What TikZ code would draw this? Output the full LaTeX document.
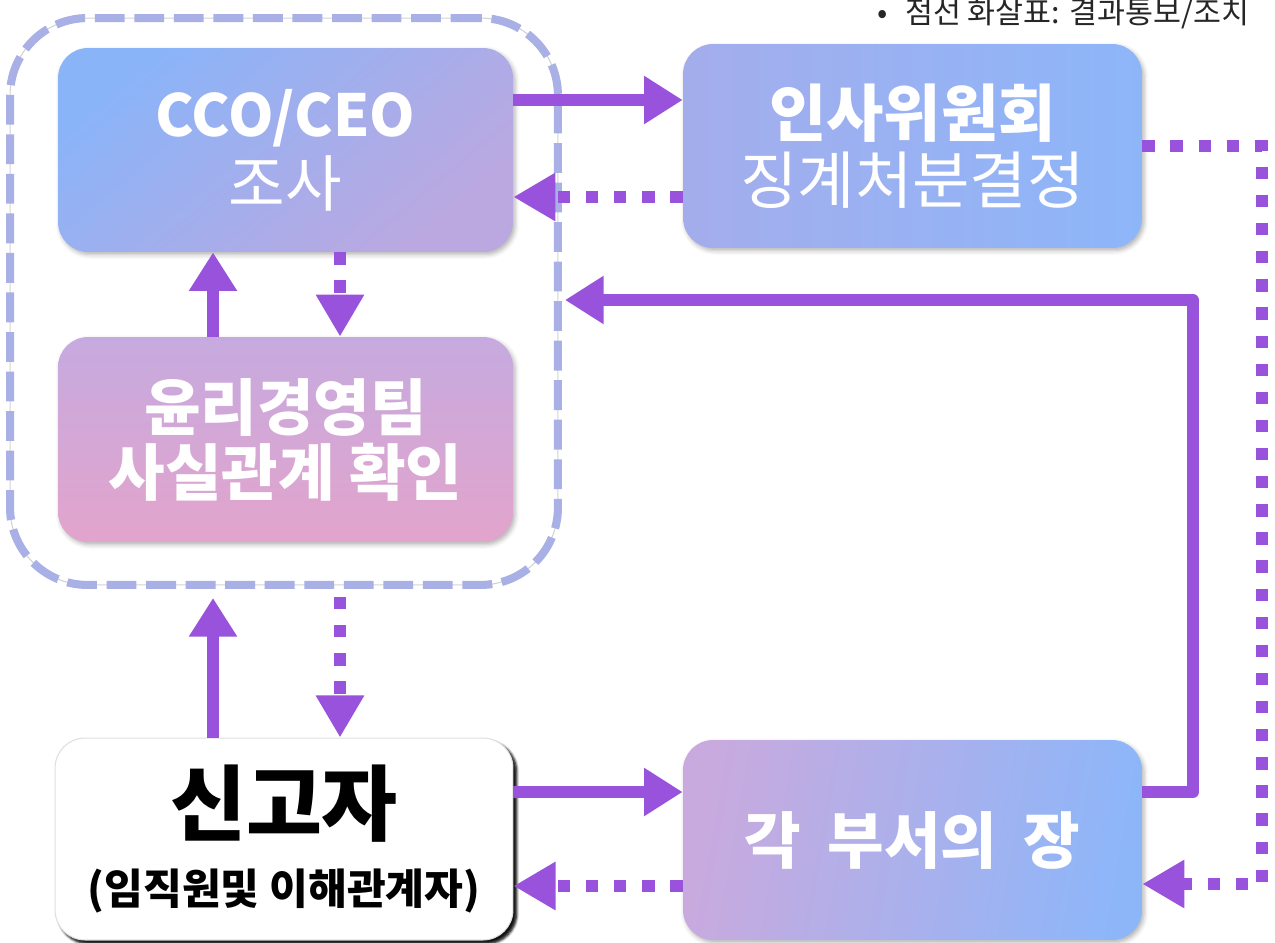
\documentclass[tikz,border=0pt]{standalone}
\usepackage{fontspec}
\setmainfont{Noto Sans CJK KR}
\usetikzlibrary{arrows.meta,shadows.blur,calc}
\definecolor{arr}{HTML}{9852DC}
\definecolor{grpc}{HTML}{A8B0E6}
\definecolor{ccoA}{HTML}{8AB4F8}
\definecolor{ccoB}{HTML}{BCA8E0}
\definecolor{ethA}{HTML}{C6AADF}
\definecolor{ethB}{HTML}{E2A4CC}
\definecolor{hrA}{HTML}{A4ADEC}
\definecolor{hrB}{HTML}{8DB6F9}
\definecolor{dpA}{HTML}{C8AADE}
\definecolor{dpB}{HTML}{8DB6F9}
\begin{document}
\begin{tikzpicture}[x=0.02cm,y=-0.02cm,
 box/.style={rounded corners=0.6cm, minimum width=9.1cm, minimum height=4.08cm, align=center, text=white, inner sep=0pt,
   blur shadow={shadow xshift=1.2pt, shadow yshift=-1.5pt, shadow opacity=30, shadow blur radius=2.5pt}},
 sol/.style={draw=arr, line width=6.8pt, line join=round, -{Triangle[length=22pt,width=26pt]}},
 dotarr/.style={draw=arr, line width=6.8pt, dash pattern=on 7pt off 9pt, -{Triangle[length=24pt,width=26pt]}},
]
\useasboundingbox (0,0) rectangle (1275,943);

% container
\node[draw=gray!35, line width=0.6pt, rounded corners=1.55cm, minimum width=10.96cm, minimum height=11.34cm] (grpline) at (284,301.5) {};
\node[draw=grpc, line width=4.6pt, dash pattern=on 17pt off 5.5pt, rounded corners=1.55cm, minimum width=10.96cm, minimum height=11.34cm] (grp) at (284,301.5) {};

% boxes
\node[box, left color=ccoA, right color=ccoB, shading angle=40, font=\fontsize{35}{40}\selectfont] (cco) at (285.5,150)
  {{\fontsize{33}{40}\selectfont\bfseries CCO/CEO}\\ 조사};
\node[box, top color=ethA, bottom color=ethB, minimum height=4.1cm, font=\fontsize{35}{37}\selectfont\bfseries] (eth) at (285.5,439.5)
  {윤리경영팀\\ 사실관계 확인};
\node[box, left color=hrA, right color=hrB, minimum width=9.18cm, font=\fontsize{35.5}{38}\selectfont] (hr) at (912.5,146)
  {{\bfseries 인사위원회}\\ 징계처분결정};
\node[box, left color=dpA, right color=dpB, shading angle=80, minimum width=9.18cm, minimum height=4.0cm, font=\fontsize{35}{38}\selectfont\bfseries] (dept) at (912.5,840)
  {각\hspace{0.2em} 부서의\hspace{0.2em} 장};
\node[box, fill=white, draw=gray!25, line width=0.6pt, text=black, minimum width=9.16cm, minimum height=4.04cm,
  font=\fontsize{24}{40}\selectfont\bfseries,
  blur shadow={shadow xshift=2pt, shadow yshift=-2pt, shadow opacity=75, shadow blur radius=1.5pt}] (rep) at (284,839)
  {{\fontsize{47}{40}\selectfont 신고자}\\ (임직원및 이해관계자)};

% legend
\node[anchor=west, inner sep=0pt, text=black!85, font=\fontsize{17.3}{18}\selectfont] (legend) at (877,14) {•\hspace{10pt}점선 화살표: 결과통보/조치};

% arrows
\draw[sol] ([yshift=1cm]cco.east) -- ([yshift=1cm]cco.east -| hr.west);
\draw[dotarr] ([yshift=-1.02cm]hr.west) -- ([yshift=-1.02cm]hr.west -| cco.east);
\draw[sol] ([xshift=-1.45cm]eth.north) -- ([xshift=-1.45cm]cco.south);
\draw[dotarr] ([xshift=1.09cm]cco.south) -- ([xshift=1.09cm]eth.north);
\draw[sol] ([xshift=-1.42cm]rep.north) -- ([xshift=-1.42cm,yshift=-0.18cm]rep.north |- grp.south);
\draw[dotarr] ([xshift=1.12cm,yshift=-0.16cm]rep.north |- grp.south) -- ([xshift=1.12cm]rep.north);
\draw[sol] ([yshift=0.94cm]rep.east) -- ([yshift=0.94cm]rep.east -| dept.west);
\draw[dotarr] ([yshift=-0.92cm]dept.west) -- ([yshift=-0.92cm]dept.west -| rep.east);
\coordinate (c1) at (1193,300);
\draw[sol] ([yshift=0.96cm]dept.east) -| (c1) -- ([xshift=0.06cm]grp.east |- c1);
\coordinate (c2) at (1262,884);
\draw[dotarr] (hr.east) -| (c2) -- (c2 -| dept.east);
\end{tikzpicture}
\end{document}
